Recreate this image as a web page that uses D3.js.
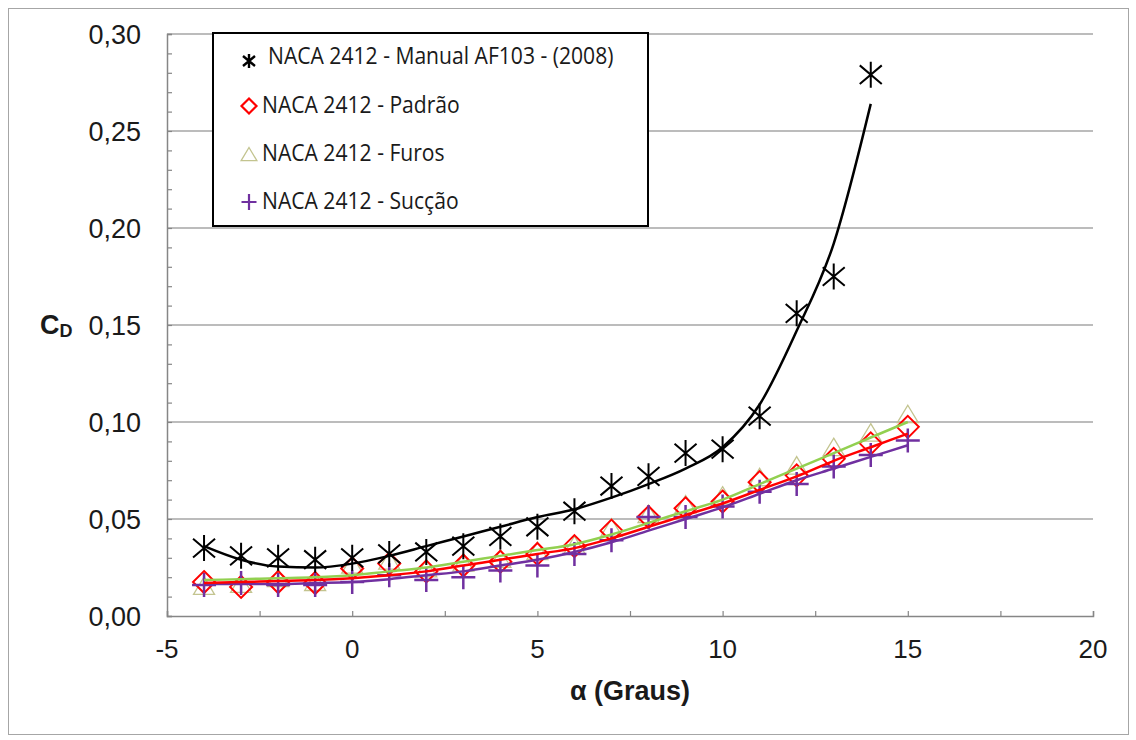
<!DOCTYPE html>
<html>
<head>
<meta charset="utf-8">
<script src="https://cdn.jsdelivr.net/npm/d3@7"></script>
<style>
  body { margin: 0; background: #fff; }
  svg { display: block; }
</style>
</head>
<body>
<div id="chart"></div>
<script>
// angle of attack (graus)
var alphaManual = [-4, -3, -2, -1, 0, 1, 2, 3, 4, 5, 6, 7, 8, 9, 10, 11, 12, 13, 14];
var alphaEnsaio = [-4, -3, -2, -1, 0, 1, 2, 3, 4, 5, 6, 7, 8, 9, 10, 11, 12, 13, 14, 15];

// CD values
var cdManual = [0.035, 0.031, 0.030, 0.029, 0.030, 0.032, 0.033, 0.036, 0.041, 0.046, 0.054, 0.067, 0.072, 0.084, 0.086, 0.103, 0.156, 0.175, 0.279];
var cdPadrao = [0.0175, 0.015, 0.0175, 0.017, 0.0245, 0.027, 0.023, 0.026, 0.028, 0.032, 0.036, 0.044, 0.051, 0.0555, 0.059, 0.069, 0.0725, 0.081, 0.089, 0.0975];
var cdFuros  = [0.015, 0.016, 0.019, 0.017, 0.026, 0.028, 0.024, 0.027, 0.029, 0.033, 0.036, 0.045, 0.052, 0.057, 0.0615, 0.071, 0.077, 0.0865, 0.094, 0.1035];
var cdSuccao = [0.016, 0.017, 0.016, 0.016, 0.0175, 0.021, 0.0185, 0.020, 0.0235, 0.026, 0.032, 0.039, 0.051, 0.051, 0.0565, 0.064, 0.068, 0.077, 0.083, 0.0905];

// trend lines at each integer angle
var trendManual = [0.036, 0.029, 0.0255, 0.025, 0.027, 0.031, 0.036, 0.041, 0.046, 0.051, 0.055, 0.061, 0.068, 0.076, 0.087, 0.109, 0.147, 0.192, 0.264];
var trendPadrao = [0.017, 0.0175, 0.018, 0.0185, 0.0195, 0.021, 0.023, 0.026, 0.029, 0.032, 0.035, 0.040, 0.046, 0.052, 0.058, 0.065, 0.072, 0.080, 0.087, 0.094];
var trendFuros  = [0.0185, 0.019, 0.0195, 0.020, 0.021, 0.023, 0.025, 0.028, 0.031, 0.034, 0.037, 0.042, 0.048, 0.054, 0.060, 0.068, 0.076, 0.084, 0.092, 0.100];
var trendSuccao = [0.0165, 0.0165, 0.0165, 0.017, 0.0175, 0.019, 0.021, 0.023, 0.026, 0.029, 0.033, 0.038, 0.044, 0.050, 0.056, 0.063, 0.070, 0.076, 0.082, 0.088];

var xTicks = [-5, 0, 5, 10, 15, 20];
var yTicks = [0, 0.05, 0.10, 0.15, 0.20, 0.25, 0.30];
var legendLabels = ["NACA 2412 - Manual AF103 - (2008)", "NACA 2412 - Padrão", "NACA 2412 - Furos", "NACA 2412 - Sucção"];

var W = 1136, H = 740;
var plot = {left: 167, right: 1093, top: 34, bottom: 616};
var axisFont = "'Liberation Sans', Arial, sans-serif";

var colors = {
    manual: "#000000",
    padrao: "#ff0000",
    furosMarker: "#c3c48f",
    furosLine: "#92d050",
    succao: "#7030a0"
};

var x = d3.scaleLinear().domain([-5, 20]).range([plot.left, plot.right]);
var y = d3.scaleLinear().domain([0, 0.30]).range([plot.bottom, plot.top]);

var svg = d3.select("#chart").append("svg")
    .attr("width", W)
    .attr("height", H);

// outer frame
svg.append("rect")
    .attr("x", 8.5).attr("y", 8.5)
    .attr("width", 1120).attr("height", 726)
    .attr("fill", "#fff")
    .attr("stroke", "#a6a6a6")
    .attr("stroke-width", 1);

// horizontal gridlines
svg.append("g")
    .selectAll("line")
    .data(yTicks.slice(1))
    .enter().append("line")
    .attr("x1", plot.left).attr("x2", plot.right)
    .attr("y1", function(d) { return y(d); })
    .attr("y2", function(d) { return y(d); })
    .attr("stroke", "#a6a6a6")
    .attr("stroke-width", 1.5);

// y axis, minor ticks inside every 0.01
var yAxis = d3.axisRight(y)
    .tickValues(d3.range(0, 31).map(function(i) { return i / 100; }))
    .tickSize(5)
    .tickFormat("");
svg.append("g")
    .attr("transform", "translate(" + plot.left + ",0)")
    .call(yAxis)
    .call(function(g) {
        g.select(".domain").attr("stroke", "#868686").attr("stroke-width", 1.5);
        g.selectAll(".tick line").attr("stroke", "#868686").attr("stroke-width", 1.2);
    });

// x axis, ticks inside every 2.5
var xAxis = d3.axisTop(x)
    .tickValues(d3.range(-5, 20.1, 2.5))
    .tickSize(5)
    .tickFormat("");
svg.append("g")
    .attr("transform", "translate(0," + plot.bottom + ")")
    .call(xAxis)
    .call(function(g) {
        g.select(".domain").attr("stroke", "#868686").attr("stroke-width", 1.5);
        g.selectAll(".tick line").attr("stroke", "#868686").attr("stroke-width", 1.2);
    });

// tick labels
var fmt = function(d) { return d3.format(".2f")(d).replace(".", ","); };
svg.append("g").selectAll("text")
    .data(yTicks)
    .enter().append("text")
    .attr("x", 141)
    .attr("y", function(d) { return y(d); })
    .attr("dy", "0.36em")
    .attr("text-anchor", "end")
    .attr("font-family", axisFont)
    .attr("font-size", 27)
    .attr("fill", "#1a1a1a")
    .text(fmt);

svg.append("g").selectAll("text")
    .data(xTicks)
    .enter().append("text")
    .attr("x", function(d) { return x(d); })
    .attr("y", 649)
    .attr("dy", "0.36em")
    .attr("text-anchor", "middle")
    .attr("font-family", axisFont)
    .attr("font-size", 26)
    .attr("fill", "#1a1a1a")
    .text(function(d) { return d; });

// axis titles
var cd = svg.append("text")
    .attr("x", 40).attr("y", 334)
    .attr("font-family", axisFont)
    .attr("font-weight", "bold")
    .attr("font-size", 27)
    .attr("fill", "#1a1a1a");
cd.append("tspan").text("C");
cd.append("tspan").attr("font-size", 18).attr("dy", 3).text("D");

svg.append("text")
    .attr("x", 630).attr("y", 700)
    .attr("text-anchor", "middle")
    .attr("font-family", axisFont)
    .attr("font-weight", "bold")
    .attr("font-size", 27)
    .attr("fill", "#1a1a1a")
    .text("α (Graus)");

// marker shapes
function starPath(w, h) {
    return "M0," + (-h) + "L0," + h +
        "M" + (-w) + "," + (-h * 0.72) + "L" + w + "," + (h * 0.72) +
        "M" + (-w) + "," + (h * 0.72) + "L" + w + "," + (-h * 0.72);
}
function diamondPath(r) {
    return "M0," + (-r) + "L" + r + ",0L0," + r + "L" + (-r) + ",0Z";
}
function trianglePath(r) {
    return "M0," + (-r) + "L" + (r * 1.05) + "," + (r * 0.75) + "L" + (-r * 1.05) + "," + (r * 0.75) + "Z";
}
function plusPath(w, h) {
    return "M0," + (-h) + "L0," + h + "M" + (-w) + ",0L" + w + ",0";
}

function drawMarkers(xs, ys, path, stroke, sw, fill) {
    svg.append("g").selectAll("path")
        .data(xs)
        .enter().append("path")
        .attr("transform", function(d, i) { return "translate(" + x(d) + "," + y(ys[i]) + ")"; })
        .attr("d", path)
        .attr("fill", fill || "none")
        .attr("stroke", stroke)
        .attr("stroke-width", sw);
}

function drawLine(xs, ys, stroke, sw) {
    var line = d3.line()
        .x(function(d) { return x(d); })
        .y(function(d, i) { return y(ys[i]); })
        .curve(d3.curveMonotoneX);
    svg.append("path")
        .datum(xs)
        .attr("d", line)
        .attr("fill", "none")
        .attr("stroke", stroke)
        .attr("stroke-width", sw);
}

drawMarkers(alphaEnsaio, cdFuros, trianglePath(10), colors.furosMarker, 1.3);
drawMarkers(alphaEnsaio, cdPadrao, diamondPath(11), colors.padrao, 2);
drawMarkers(alphaEnsaio, cdSuccao, plusPath(12, 12), colors.succao, 2.5);
drawMarkers(alphaManual, cdManual, starPath(11, 13), colors.manual, 2);

drawLine(alphaEnsaio, trendFuros, colors.furosLine, 2.5);
drawLine(alphaEnsaio, trendSuccao, colors.succao, 2.5);
drawLine(alphaEnsaio, trendPadrao, colors.padrao, 2.5);
drawLine(alphaManual, trendManual, colors.manual, 2.5);

// legend
var legend = svg.append("g");
legend.append("rect")
    .attr("x", 213).attr("y", 33)
    .attr("width", 435).attr("height", 193)
    .attr("fill", "#fff")
    .attr("stroke", "#000")
    .attr("stroke-width", 2);

var legendY = [56, 105, 153, 201];
var legendMarkY = [61, 106, 155, 202];
var legendTextX = [268, 262, 262, 262];
var legendMarks = [
    {d: starPath(6, 7), stroke: colors.manual, sw: 2.4},
    {d: diamondPath(7.5), stroke: colors.padrao, sw: 2.2},
    {d: trianglePath(7.5), stroke: colors.furosMarker, sw: 1.3},
    {d: plusPath(7.5, 8), stroke: colors.succao, sw: 2.2}
];
legendLabels.forEach(function(label, i) {
    legend.append("path")
        .attr("transform", "translate(" + 249 + "," + legendMarkY[i] + ")")
        .attr("d", legendMarks[i].d)
        .attr("fill", "none")
        .attr("stroke", legendMarks[i].stroke)
        .attr("stroke-width", legendMarks[i].sw);
    legend.append("text")
        .attr("transform", "translate(" + legendTextX[i] + "," + legendY[i] + ") scale(0.88,1)")
        .attr("dy", "0.35em")
        .attr("font-family", "'Open Sans', 'Noto Sans', sans-serif")
        .attr("font-size", 24)
        .attr("fill", "#1a1a1a")
        .text(label);
});
</script>
</body>
</html>
